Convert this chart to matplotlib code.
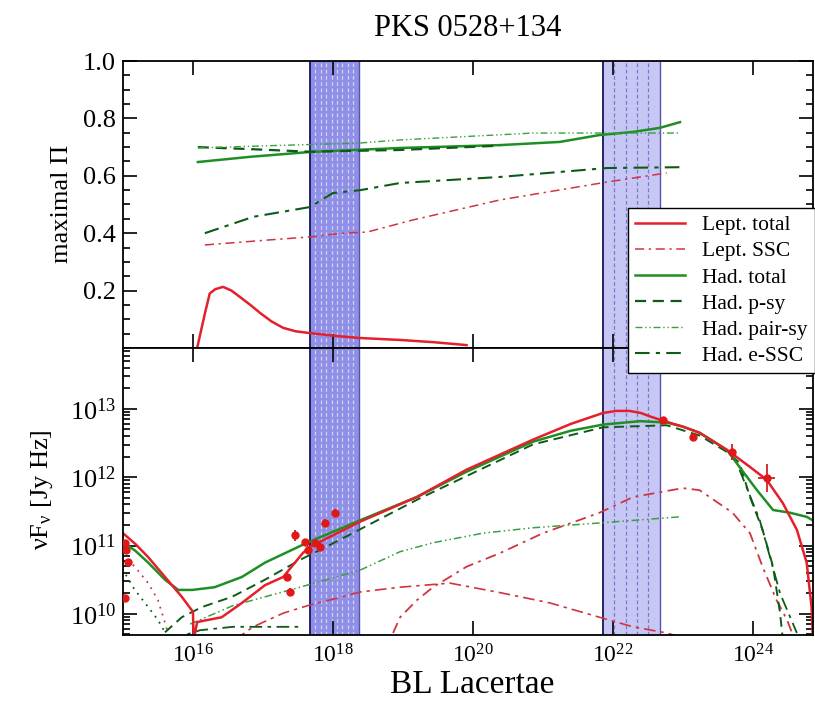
import numpy as np
import matplotlib
matplotlib.use('Agg')
import matplotlib.pyplot as plt
from matplotlib.ticker import FixedLocator, NullLocator, MultipleLocator, LogLocator, NullFormatter

plt.rcParams['font.family'] = ['Liberation Serif', 'DejaVu Serif']
plt.rcParams['mathtext.fontset'] = 'custom'
plt.rcParams['mathtext.rm'] = 'Liberation Serif'
plt.rcParams['mathtext.it'] = 'Liberation Serif:italic'

# all x values are log10(nu / Hz)
# --- top panel: maximal polarisation degree ---
pi_lept_tot_x = [16.06, 16.17, 16.24, 16.32, 16.43, 16.55, 16.67, 16.82, 16.96, 17.12, 17.29, 17.47, 17.67,
                 18.0, 18.37, 18.96, 19.45, 19.91]
pi_lept_tot_y = [0.0, 0.12, 0.19, 0.205, 0.213, 0.2, 0.178, 0.15, 0.122, 0.093, 0.07, 0.058, 0.052,
                 0.043, 0.035, 0.028, 0.02, 0.01]
pi_lept_ssc_x = [16.17, 17.06, 17.67, 18.14, 18.49, 19.14, 20.39, 21.91, 22.77]
pi_lept_ssc_y = [0.359, 0.376, 0.387, 0.40, 0.404, 0.446, 0.516, 0.578, 0.61]
pi_had_tot_x = [16.07, 16.81, 17.67, 18.96, 20.39, 21.24, 21.81, 22.29, 22.67, 22.96]
pi_had_tot_y = [0.648, 0.666, 0.683, 0.697, 0.707, 0.718, 0.742, 0.753, 0.767, 0.787]
pi_had_psy_x = [16.07, 16.81, 17.67, 18.96, 20.39]
pi_had_psy_y = [0.700, 0.693, 0.684, 0.69, 0.705]
pi_had_pair_x = [16.07, 16.96, 18.37, 18.96, 20.86, 22.96]
pi_had_pair_y = [0.697, 0.704, 0.714, 0.725, 0.749, 0.749]
pi_had_essc_x = [16.17, 16.86, 17.67, 18.0, 18.39, 18.96, 20.39, 21.91, 22.96]
pi_had_essc_y = [0.40, 0.457, 0.491, 0.54, 0.55, 0.575, 0.596, 0.627, 0.63]

# --- bottom panel: SED, log10(nuF_nu / Jy Hz) ---
sed_lept_tot_x = [14.93, 15.0, 15.18, 15.36, 15.6, 15.84, 16.0, 16.01, 16.06, 16.41, 16.7, 17.03, 17.29, 17.57,
                  17.67, 18.39, 19.2, 19.91, 20.86, 21.4, 21.86, 22.05, 22.24, 22.4, 22.53, 22.77, 23.0, 23.24,
                  23.63, 23.96, 24.2, 24.43, 24.63, 24.77, 24.84, 24.86]
sed_lept_tot_y = [11.23, 11.18, 11.02, 10.83, 10.54, 10.25, 10.03, 9.62, 9.88, 9.95, 10.16, 10.42, 10.54, 10.89,
                  10.98, 11.35, 11.71, 12.11, 12.55, 12.78, 12.94, 12.97, 12.97, 12.94, 12.89, 12.81, 12.74,
                  12.65, 12.4, 12.15, 11.96, 11.62, 11.23, 10.75, 10.1, 9.62]
sed_lept_ssc_x = [18.86, 18.96, 19.2, 19.43, 19.91, 20.39, 21.0, 21.81, 22.29, 23.0, 23.24, 23.71, 23.96,
                  24.14, 24.34, 24.49, 24.6]
sed_lept_ssc_y = [9.72, 9.95, 10.2, 10.39, 10.69, 10.89, 11.18, 11.48, 11.71, 11.84, 11.81, 11.48, 11.18,
                  10.69, 10.2, 9.91, 9.62]
sed_lept_ec_x = [16.6, 16.86, 17.29, 17.67, 18.06, 18.39, 18.96, 19.67, 20.39, 21.1, 21.81, 22.29, 22.77, 23.1]
sed_lept_ec_y = [9.62, 9.81, 10.01, 10.13, 10.23, 10.32, 10.39, 10.45, 10.31, 10.16, 9.95, 9.81, 9.72, 9.62]
sed_lept_syn_x = [14.93, 15.0, 15.17, 15.36, 15.5, 15.6, 15.67]
sed_lept_syn_y = [10.95, 10.86, 10.69, 10.45, 10.2, 9.87, 9.62]

sed_had_tot_x = [14.93, 15.0, 15.18, 15.36, 15.6, 15.79, 15.99, 16.31, 16.7, 17.03, 17.63, 18.39, 19.2, 19.91,
                 20.86, 21.4, 21.86, 22.39, 22.77, 23.0, 23.24, 23.63, 23.81, 24.06, 24.29, 24.53, 24.77, 24.89]
sed_had_tot_y = [11.1, 11.05, 10.92, 10.75, 10.5, 10.35, 10.35, 10.39, 10.54, 10.75, 11.04, 11.37, 11.71, 12.08,
                 12.52, 12.68, 12.77, 12.82, 12.8, 12.74, 12.65, 12.4, 12.15, 11.81, 11.52, 11.48, 11.42, 11.35]
sed_had_psy_x = [15.6, 15.84, 16.13, 16.56, 17.03, 17.53, 17.96, 19.24, 20.86, 21.86, 22.77, 23.24, 23.63,
                 23.81, 23.96, 24.14, 24.29, 24.39, 24.43]
sed_had_psy_y = [9.73, 9.95, 10.1, 10.25, 10.5, 10.79, 11.01, 11.69, 12.48, 12.73, 12.76, 12.61, 12.37,
                 12.21, 11.71, 11.23, 10.69, 10.01, 9.62]
sed_had_pair_x = [15.96, 16.57, 17.53, 18.39, 18.96, 19.43, 20.14, 20.86, 21.81, 22.96]
sed_had_pair_y = [9.85, 10.12, 10.39, 10.64, 10.91, 11.04, 11.18, 11.26, 11.33, 11.42]
sed_had_essc_x = [15.67, 16.1, 16.57, 17.57, np.nan, 23.81, 24.1, 24.39, 24.63]
sed_had_essc_y = [9.62, 9.76, 9.81, 9.81, np.nan, 12.11, 11.37, 10.3, 9.72]
sed_had_syn_x = [14.93, 15.0, 15.17, 15.36, 15.5, 15.6]
sed_had_syn_y = [10.75, 10.64, 10.35, 10.1, 9.91, 9.73]

# observed fluxes
obs_x = [15.03, 15.05, 15.07, 15.03, 17.34, 17.39, 17.46, 17.6, 17.64, 17.74, 17.81, 17.89, 18.03,
         22.71, 23.14, 23.7, 24.2]
obs_y = [11.04, 10.93, 10.76, 10.23, 10.54, 10.32, 11.15, 11.05, 10.94, 11.04, 10.98, 11.33, 11.48,
         12.84, 12.59, 12.37, 11.99]
obs_yerr = [0.03, 0.03, 0.03, 0.03, 0.06, 0.06, 0.08, 0.05, 0.05, 0.05, 0.05, 0.06, 0.06,
            0.03, 0.03, 0.12, 0.2]
obs_xerr = [0, 0, 0, 0, 0, 0, 0, 0, 0, 0, 0, 0, 0, 0, 0, 0.05, 0.12]

bands = [(17.67, 18.37), (21.86, 22.67)]

x_tick_exp = [16, 18, 20, 22, 24]
pi_ticks = [0.2, 0.4, 0.6, 0.8, 1.0]
sed_tick_exp = [10, 11, 12, 13]

red = '#e3202c'
red2 = '#cf3440'
green = '#1f8f24'
dgreen = '#0d5c15'
lgreen = '#3aa040'


def lin(v):
    return 10.0 ** np.asarray(v, dtype=float)


fig = plt.figure(figsize=(8.15, 7.07), dpi=100)
ax1 = fig.add_axes([0.1509, 0.5078, 0.8466, 0.4059])
ax2 = fig.add_axes([0.1509, 0.1018, 0.8466, 0.4059], sharex=ax1)

# shaded frequency bands
for ax in (ax1, ax2):
    for i, (lo, hi) in enumerate(bands):
        ax.axvspan(lin(lo), lin(hi), color='#7373e2' if i == 0 else '#a9a9f0',
                   alpha=0.8 if i == 0 else 0.65, lw=0, zorder=0)
        ax.axvline(lin(lo), color='#15155a', lw=1.3, zorder=1)
        ax.axvline(lin(hi), color='#5555b0', lw=1.0, zorder=1)
        n = 8 if i == 0 else 4
        for s in np.linspace(lo, hi, n + 2)[1:-1]:
            ax.axvline(lin(s), color='white' if i == 0 else '#4646a8', lw=0.9,
                       ls=(0, (3, 2)), alpha=0.6, zorder=1)

# top panel
h1, = ax1.plot(lin(pi_lept_tot_x), pi_lept_tot_y, color=red, lw=1.8, label='Lept. total')
h2, = ax1.plot(lin(pi_lept_ssc_x), pi_lept_ssc_y, color=red2, lw=1.1, ls=(0, (6, 3, 1.5, 3)), label='Lept. SSC')
h3, = ax1.plot(lin(pi_had_tot_x), pi_had_tot_y, color=green, lw=1.8, label='Had. total')
h4, = ax1.plot(lin(pi_had_psy_x), pi_had_psy_y, color=dgreen, lw=1.6, ls=(0, (5, 3)), label='Had. p-sy')
h5, = ax1.plot(lin(pi_had_pair_x), pi_had_pair_y, color=lgreen, lw=1.0, ls=(0, (5, 2, 1, 2, 1, 2)),
               label='Had. pair-sy')
h6, = ax1.plot(lin(pi_had_essc_x), pi_had_essc_y, color=dgreen, lw=1.5, ls=(0, (7, 3, 2, 3)), label='Had. e-SSC')

ax1.set_ylim(0, 1.0)
ax1.yaxis.set_major_locator(FixedLocator(pi_ticks))
ax1.yaxis.set_minor_locator(MultipleLocator(0.05))
ax1.set_yticklabels([f'{v:.1f}' for v in pi_ticks])

# bottom panel
ax2.plot(lin(sed_lept_syn_x), lin(sed_lept_syn_y), color=red2, lw=1.3, ls=(0, (1, 3)))
ax2.plot(lin(sed_had_syn_x), lin(sed_had_syn_y), color=dgreen, lw=1.3, ls=(0, (1, 3)))
ax2.plot(lin(sed_lept_ec_x), lin(sed_lept_ec_y), color=red2, lw=1.2, ls=(0, (7, 3, 2, 3)))
ax2.plot(lin(sed_lept_ssc_x), lin(sed_lept_ssc_y), color=red2, lw=1.3, ls=(0, (6, 3, 1.5, 3)))
ax2.plot(lin(sed_had_pair_x), lin(sed_had_pair_y), color=lgreen, lw=1.1, ls=(0, (5, 2, 1, 2, 1, 2)))
ax2.plot(lin(sed_had_essc_x), lin(sed_had_essc_y), color=dgreen, lw=1.3, ls=(0, (7, 3, 2, 3)))
ax2.plot(lin(sed_had_psy_x), lin(sed_had_psy_y), color=dgreen, lw=1.4, ls=(0, (5, 3)))
ax2.plot(lin(sed_had_tot_x), lin(sed_had_tot_y), color=green, lw=1.8)
ax2.plot(lin(sed_lept_tot_x), lin(sed_lept_tot_y), color=red, lw=1.8)

oy = np.asarray(obs_y)
oe = np.asarray(obs_yerr)
ox = np.asarray(obs_x)
oxe = np.asarray(obs_xerr)
ax2.errorbar(lin(ox), lin(oy),
             yerr=[lin(oy) - lin(oy - oe), lin(oy + oe) - lin(oy)],
             xerr=[lin(ox) - lin(ox - oxe), lin(ox + oxe) - lin(ox)],
             fmt='o', ms=5, color='#e01818', ecolor='#d02020', elinewidth=1.3, capsize=0, zorder=5)

ax2.set_yscale('log')
ax2.set_ylim(lin(9.69), lin(13.89))
ax2.yaxis.set_major_locator(FixedLocator(lin(sed_tick_exp)))
ax2.set_yticklabels([rf'$10^{{{e}}}$' for e in sed_tick_exp])
ax2.yaxis.set_minor_locator(LogLocator(base=10, subs=np.arange(2, 10)))
ax2.yaxis.set_minor_formatter(NullFormatter())

ax1.set_xscale('log')
ax1.set_xlim(lin(15.0), lin(24.86))
ax2.xaxis.set_major_locator(FixedLocator(lin(x_tick_exp)))
ax2.xaxis.set_minor_locator(NullLocator())
ax2.set_xticklabels([rf'$10^{{{e}}}$' for e in x_tick_exp])
plt.setp(ax1.get_xticklabels(), visible=False)

for ax in (ax1, ax2):
    ax.tick_params(which='both', direction='in', top=True, right=True, width=1.2)
    ax.tick_params(which='major', length=10, labelsize=19, pad=5)
    ax.tick_params(which='minor', length=5)
    for sp in ax.spines.values():
        sp.set_linewidth(1.3)
ax2.tick_params(axis='x', which='major', labelsize=17, pad=7)

fig.text(0.574, 0.960, 'PKS 0528+134', ha='center', va='center', fontsize=22)
fig.text(0.579, 0.032, 'BL Lacertae', ha='center', va='center', fontsize=24)
fig.text(0.076, 0.711, 'maximal Π', rotation=90, ha='center', va='center', fontsize=19)
fig.text(0.0515, 0.307, r'$\mathrm{\nu F_{\nu}}$ [Jy Hz]', rotation=90, ha='center', va='center', fontsize=19)

fig.legend([h1, h2, h3, h4, h5, h6], [h.get_label() for h in (h1, h2, h3, h4, h5, h6)],
           loc='upper left', bbox_to_anchor=(617 / 815, 1 - 197 / 707), fontsize=15.5,
           frameon=True, fancybox=False, edgecolor='black', framealpha=1, borderpad=0.35,
           labelspacing=0.28, handlelength=2.3, handletextpad=0.8)

fig.savefig('out.png', dpi=100)
